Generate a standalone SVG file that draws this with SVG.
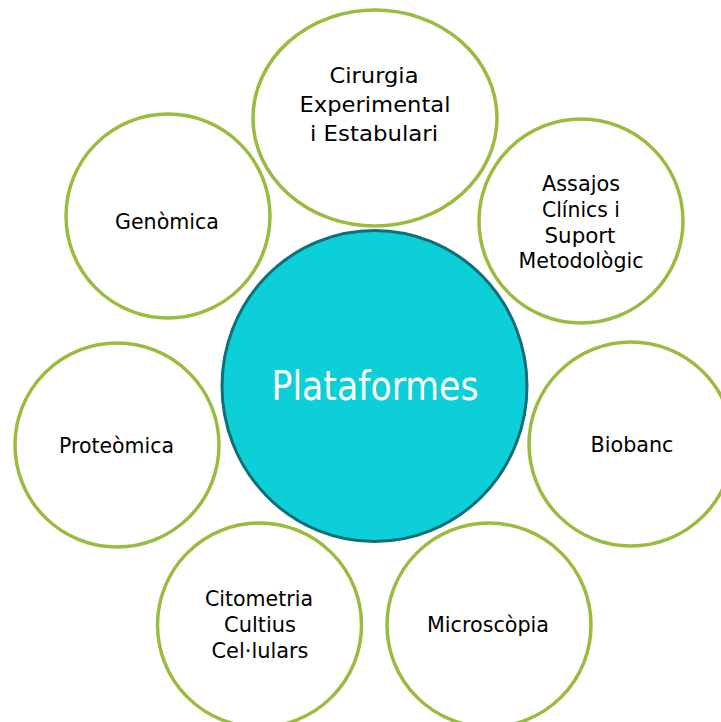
<svg xmlns="http://www.w3.org/2000/svg" width="721" height="722" viewBox="0 0 721 722">
  <style>
    .sat { fill: #ffffff; stroke: #9bbb3f; stroke-width: 3.5; }
    .hub { fill: #0dcfd8; stroke: #0f6e78; stroke-width: 3; }
    .lbl { font-family: "DejaVu Sans", "Liberation Sans", sans-serif; font-size: 21.5px; fill: #000000; text-anchor: middle; }
    .hubl { font-family: "DejaVu Sans", "Liberation Sans", sans-serif; font-size: 40px; fill: #ffffff; text-anchor: middle; }
  </style>
  <rect width="721" height="722" fill="#ffffff"/>
  <g id="node-cirurgia">
    <ellipse class="sat" cx="375" cy="118" rx="122" ry="108"/>
    <text class="lbl" x="374" y="83" textLength="89" lengthAdjust="spacingAndGlyphs">Cirurgia</text>
    <text class="lbl" x="375" y="112" textLength="151" lengthAdjust="spacingAndGlyphs">Experimental</text>
    <text class="lbl" x="374" y="141" textLength="128" lengthAdjust="spacingAndGlyphs">i Estabulari</text>
  </g>
  <g id="node-assajos">
    <circle class="sat" cx="581" cy="221" r="102"/>
    <text class="lbl" x="581" y="191" textLength="78" lengthAdjust="spacingAndGlyphs">Assajos</text>
    <text class="lbl" x="581" y="217" textLength="78" lengthAdjust="spacingAndGlyphs">Clínics i</text>
    <text class="lbl" x="580" y="243" textLength="71" lengthAdjust="spacingAndGlyphs">Suport</text>
    <text class="lbl" x="581" y="268" textLength="125" lengthAdjust="spacingAndGlyphs">Metodològic</text>
  </g>
  <g id="node-biobanc">
    <circle class="sat" cx="631" cy="444" r="102"/>
    <text class="lbl" x="632" y="452" textLength="83" lengthAdjust="spacingAndGlyphs">Biobanc</text>
  </g>
  <g id="node-microscopia">
    <circle class="sat" cx="489" cy="625" r="102"/>
    <text class="lbl" x="488" y="632" textLength="122" lengthAdjust="spacingAndGlyphs">Microscòpia</text>
  </g>
  <g id="node-citometria">
    <circle class="sat" cx="259.5" cy="625" r="102"/>
    <text class="lbl" x="259" y="606" textLength="108" lengthAdjust="spacingAndGlyphs">Citometria</text>
    <text class="lbl" x="260" y="632" textLength="72" lengthAdjust="spacingAndGlyphs">Cultius</text>
    <text class="lbl" x="260" y="658" textLength="97" lengthAdjust="spacingAndGlyphs">Cel·lulars</text>
  </g>
  <g id="node-proteomica">
    <circle class="sat" cx="117" cy="445" r="102"/>
    <text class="lbl" x="116.5" y="453" textLength="115" lengthAdjust="spacingAndGlyphs">Proteòmica</text>
  </g>
  <g id="node-genomica">
    <circle class="sat" cx="168" cy="216" r="102"/>
    <text class="lbl" x="167" y="229" textLength="104" lengthAdjust="spacingAndGlyphs">Genòmica</text>
  </g>
  <g id="node-plataformes">
    <ellipse class="hub" cx="374.5" cy="386" rx="152.5" ry="155.5"/>
    <text class="hubl" x="375" y="400" textLength="207" lengthAdjust="spacingAndGlyphs">Plataformes</text>
  </g>
</svg>
